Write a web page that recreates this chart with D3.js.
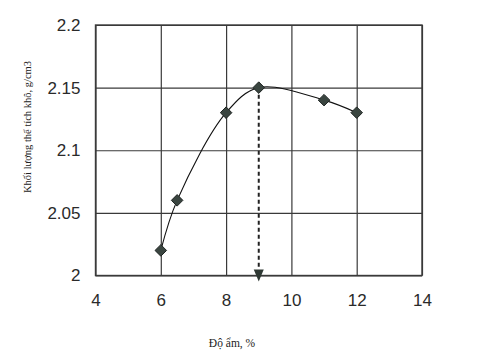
<!DOCTYPE html>
<html>
<head>
<meta charset="utf-8">
<script src="https://cdn.jsdelivr.net/npm/d3@7"></script>
<style>
  html, body { margin: 0; padding: 0; background: #fff; }
  svg { display: block; }
</style>
</head>
<body>
<script>
const moisture = [6, 6.5, 8, 9, 11, 12];
const density = [2.02, 2.06, 2.13, 2.15, 2.14, 2.13];
const xTicks = [4, 6, 8, 10, 12, 14];
const yTicks = [2, 2.05, 2.1, 2.15, 2.2];
const optimum = { x: 9, y: 2.15 };
const xTitle = "Độ ẩm, %";
const yTitle = "Khối lượng thể tích khô, g/cm3";

const W = 491, H = 356;
const m = { left: 95.5, right: 491 - 422, top: 25, bottom: 356 - 275.5 };

const svg = d3.select("body").append("svg").attr("width", W).attr("height", H);

const x = d3.scaleLinear().domain([4, 14]).range([m.left, W - m.right]);
const y = d3.scaleLinear().domain([2, 2.2]).range([H - m.bottom, m.top]);

const gridColor = "#3a3a3a";

// grid
svg.append("g").attr("transform", `translate(0,${H - m.bottom})`)
  .call(d3.axisBottom(x).tickValues(xTicks).tickSize(-(H - m.top - m.bottom)).tickFormat(d => d).tickPadding(18))
  .call(g => g.select(".domain").remove())
  .call(g => g.selectAll("line").attr("stroke", gridColor).attr("stroke-width", 1.2))
  .call(g => g.selectAll("text").attr("font-family", "Liberation Sans, Arial, sans-serif")
    .attr("font-size", 17).attr("fill", "#2a2a2a"));

svg.append("g").attr("transform", `translate(${m.left},0)`)
  .call(d3.axisLeft(y).tickValues(yTicks).tickSize(-(W - m.left - m.right)).tickFormat(d => d3.format("")(d)).tickPadding(15))
  .call(g => g.select(".domain").remove())
  .call(g => g.selectAll("line").attr("stroke", gridColor).attr("stroke-width", 1.2))
  .call(g => g.selectAll("text").attr("font-family", "Liberation Sans, Arial, sans-serif")
    .attr("font-size", 17).attr("fill", "#2a2a2a"));

// border
svg.append("rect")
  .attr("x", x(4)).attr("y", y(2.2))
  .attr("width", x(14) - x(4)).attr("height", y(2) - y(2.2))
  .attr("fill", "none").attr("stroke", gridColor).attr("stroke-width", 1.4);

// dashed line to optimum
const ax = x(optimum.x), ay = y(2);
svg.append("line")
  .attr("x1", ax).attr("x2", ax)
  .attr("y1", y(optimum.y)).attr("y2", ay - 6)
  .attr("stroke", "#222").attr("stroke-width", 2).attr("stroke-dasharray", "4,3");

svg.append("path")
  .attr("d", `M${ax - 5},${ay - 6}L${ax + 5},${ay - 6}L${ax},${ay + 6}Z`)
  .attr("fill", "#2e3833");

// curve
const pts = moisture.map((v, i) => [v, density[i]]);
svg.append("path")
  .datum(pts)
  .attr("d", d3.line().x(d => x(d[0])).y(d => y(d[1])).curve(d3.curveCatmullRom.alpha(0.5)))
  .attr("fill", "none").attr("stroke", "#111").attr("stroke-width", 1.1);

// markers
svg.append("g").selectAll("path").data(pts).join("path")
  .attr("d", d3.symbol().type(d3.symbolDiamond2).size(85)())
  .attr("transform", d => `translate(${x(d[0])},${y(d[1])})`)
  .attr("fill", "#3a4540").attr("stroke", "#1e2422").attr("stroke-width", 1);

// titles
svg.append("text")
  .attr("transform", `translate(31,${127}) rotate(-90)`)
  .attr("text-anchor", "middle")
  .attr("font-family", "Liberation Serif, Times New Roman, serif")
  .attr("font-size", 10.5).attr("fill", "#222")
  .text(yTitle);

svg.append("text")
  .attr("x", 232).attr("y", 347)
  .attr("text-anchor", "middle")
  .attr("font-family", "Liberation Serif, Times New Roman, serif")
  .attr("font-size", 11.5).attr("fill", "#222")
  .text(xTitle);
</script>
</body>
</html>
